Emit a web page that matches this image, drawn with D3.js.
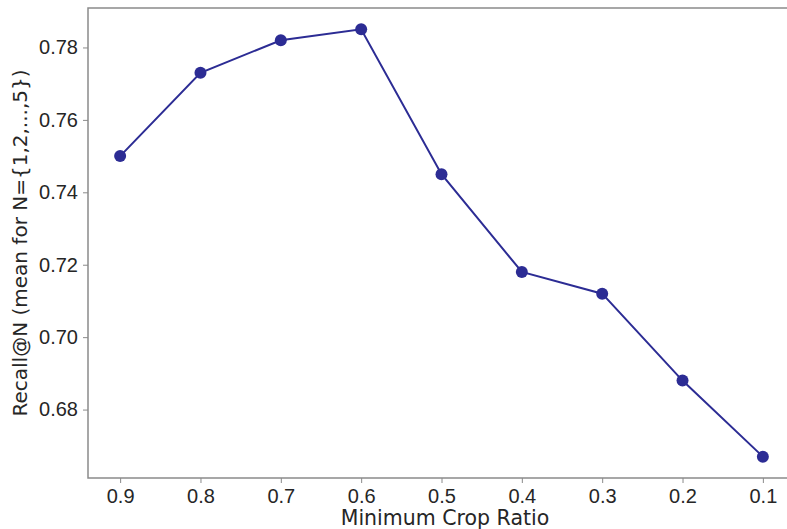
<!DOCTYPE html>
<html>
<head>
<meta charset="utf-8">
<script src="https://cdn.jsdelivr.net/npm/d3@7"></script>
<style>
  html, body { margin: 0; padding: 0; background: #fff; }
  svg { display: block; font-family: "DejaVu Sans", sans-serif; }
</style>
</head>
<body>
<svg id="chart" width="787" height="529"></svg>
<script>
const cropRatios = [0.9, 0.8, 0.7, 0.6, 0.5, 0.4, 0.3, 0.2, 0.1];
const recallMean = [0.750, 0.773, 0.782, 0.785, 0.745, 0.718, 0.712, 0.688, 0.667];
const xTicks = [0.9, 0.8, 0.7, 0.6, 0.5, 0.4, 0.3, 0.2, 0.1];
const yTicks = [0.68, 0.70, 0.72, 0.74, 0.76, 0.78];

const width = 787;
const height = 529;
const margin = { top: 8, right: -8, bottom: 51, left: 88 };
const lineColor = "#2c2c94";
const spineColor = "#8a8a8a";
const textColor = "#262626";

const svg = d3.select("#chart");

// matplotlib style: reversed x axis with 5% margins
const x = d3.scaleLinear().domain([0.94, 0.06]).range([margin.left, width - margin.right]);
const y = d3.scaleLinear().domain([0.6611, 0.7909]).range([height - margin.bottom, margin.top]);

const points = cropRatios.map((r, i) => ({ r, v: recallMean[i] }));

// spines
svg.append("rect")
  .attr("x", margin.left).attr("y", margin.top)
  .attr("width", width - margin.right - margin.left)
  .attr("height", height - margin.bottom - margin.top)
  .attr("fill", "none").attr("stroke", spineColor).attr("stroke-width", 1.5);

const xAxis = svg.append("g")
  .attr("transform", `translate(0,${height - margin.bottom})`)
  .call(d3.axisBottom(x).tickValues(xTicks).tickFormat(d3.format(".1f")).tickSize(5).tickPadding(6));

const yAxis = svg.append("g")
  .attr("transform", `translate(${margin.left},0)`)
  .call(d3.axisLeft(y).tickValues(yTicks).tickFormat(d3.format(".2f")).tickSize(5).tickPadding(5));

[xAxis, yAxis].forEach((g) => {
  g.select(".domain").remove();
  g.selectAll(".tick line").attr("stroke", spineColor).attr("stroke-width", 1);
  g.selectAll(".tick text").attr("font-size", 20).attr("fill", textColor);
});

svg.append("path")
  .datum(points)
  .attr("fill", "none")
  .attr("stroke", lineColor)
  .attr("stroke-width", 2)
  .attr("d", d3.line().x((d) => x(d.r)).y((d) => y(d.v)));

svg.selectAll("circle.pt").data(points).enter().append("circle")
  .attr("class", "pt")
  .attr("cx", (d) => x(d.r))
  .attr("cy", (d) => y(d.v))
  .attr("r", 6)
  .attr("fill", lineColor);

// x label sits low, as in the source figure
svg.append("text")
  .attr("x", 445)
  .attr("y", 525)
  .attr("text-anchor", "middle")
  .attr("font-size", 20.5)
  .attr("fill", textColor)
  .text("Minimum Crop Ratio");

svg.append("text")
  .attr("transform", `translate(27,${(margin.top + height - margin.bottom) / 2}) rotate(-90)`)
  .attr("text-anchor", "middle")
  .attr("font-size", 20)
  .attr("fill", textColor)
  .text("Recall@N (mean for N={1,2,...,5})");
</script>
</body>
</html>
